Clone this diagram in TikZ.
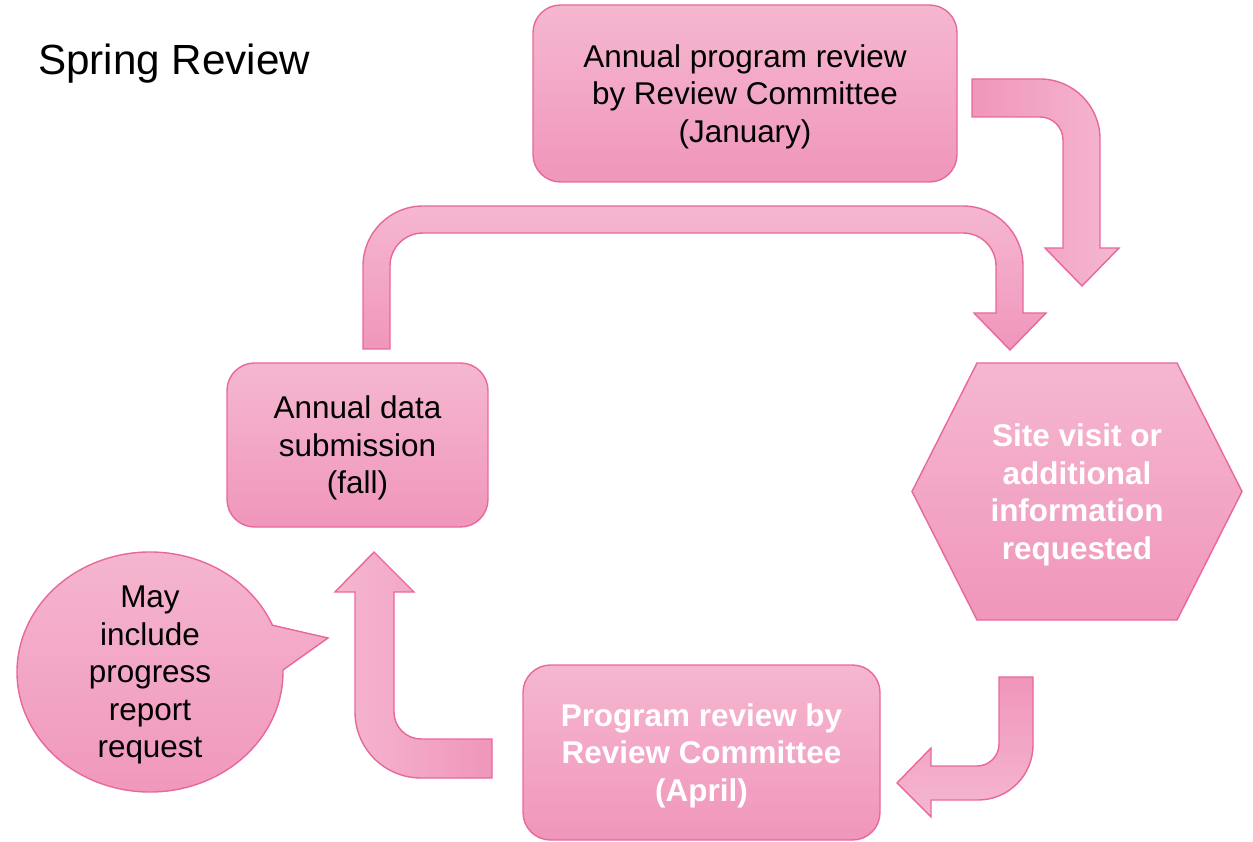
\documentclass[tikz,border=0pt]{standalone}
\usepackage{fontspec}
\setmainfont{Liberation Sans}
\usetikzlibrary{positioning, shapes.geometric, shapes.callouts}
\definecolor{pinkL}{RGB}{245,183,208}
\definecolor{pinkD}{RGB}{240,150,187}
\definecolor{pinkE}{RGB}{232,104,156}

\begin{document}
\begin{tikzpicture}[
	stepbox/.style={draw=pinkE, line width=0.8pt, rounded corners=0.55cm, top color=pinkL, bottom color=pinkD, align=center, inner sep=0pt},
	blacktext/.style={align=center, text depth=0pt, font=\fontsize{17.9}{21.3}\selectfont},
	whitetext/.style={align=center, text depth=0pt, text=white, font=\fontsize{17.9}{21.3}\selectfont\bfseries},
	bentarrow/.style={draw=pinkE, line width=0.8pt, line join=miter}
]
					\useasboundingbox (0,0) rectangle (25.06,16.82);
					\node[anchor=base west, font=\fontsize{24}{28}\selectfont] (title) at (0.64,15.32) {Spring Review};
					\node[stepbox, blacktext, minimum width=8.48cm, minimum height=3.54cm] (jan) at (14.9,14.95) {Annual program review\\by Review Committee\\(January)};
					\node[stepbox, blacktext, minimum width=5.22cm, minimum height=3.28cm] (fall) at (7.15,7.92) {Annual data\\submission\\(fall)};
					\node[stepbox, whitetext, minimum width=7.14cm, minimum height=3.5cm] (april) at (14.03,1.77) {Program review by\\Review Committee\\(April)};
					\draw[bentarrow, top color=pinkL, bottom color=pinkD] (18.24,6.99) -- (19.54,9.56) -- (23.54,9.56) -- (24.84,6.99) -- (23.54,4.42) -- (19.54,4.42) -- cycle;
					\node[whitetext] (site) at (21.54,6.99) {Site visit or\\additional\\information\\requested};
					\node[ellipse callout, draw=pinkE, line width=0.8pt, top color=pinkL, bottom color=pinkD, minimum width=5.32cm, minimum height=4.8cm, callout absolute pointer={(6.56,4.06)}, callout pointer arc=22] (bubble) at (3.0,3.38) {};
					\node[blacktext] (note) at (bubble.center) {May\\include\\progress\\report\\request};
					\draw[bentarrow, left color=pinkD, right color=pinkL] (19.44,15.24) -- (20.8,15.24) arc[start angle=90, end angle=0, radius=1.2] -- (22,11.86) -- (22.38,11.86) -- (21.64,11.1) -- (20.9,11.86) -- (21.26,11.86) -- (21.26,14.02) arc[start angle=0, end angle=90, radius=0.46] -- (19.44,14.48) -- cycle;
					\draw[bentarrow, top color=pinkL, bottom color=pinkD] (7.26,9.84) -- (7.26,11.5) arc[start angle=180, end angle=90, radius=1.2] -- (19.26,12.7) arc[start angle=90, end angle=0, radius=1.2] -- (20.46,10.56) -- (20.92,10.56) -- (20.2,9.82) -- (19.48,10.56) -- (19.92,10.56) -- (19.92,11.5) arc[start angle=0, end angle=90, radius=0.66] -- (8.46,12.16) arc[start angle=90, end angle=180, radius=0.66] -- (7.8,9.84) -- cycle;
					\draw[bentarrow, top color=pinkD, bottom color=pinkL] (19.98,3.28) -- (20.66,3.28) -- (20.66,1.92) arc[start angle=0, end angle=-90, radius=1.1] -- (18.62,0.82) -- (18.62,0.48) -- (17.94,1.16) -- (18.62,1.86) -- (18.62,1.5) -- (19.54,1.5) arc[start angle=-90, end angle=0, radius=0.44] -- cycle;
					\draw[bentarrow, left color=pinkL, right color=pinkD] (9.84,2.04) -- (8.42,2.04) arc[start angle=-90, end angle=-180, radius=0.54] -- (7.88,4.98) -- (8.28,4.98) -- (7.48,5.78) -- (6.7,4.98) -- (7.1,4.98) -- (7.1,2.58) arc[start angle=180, end angle=270, radius=1.32] -- (9.84,1.26) -- cycle;
				\end{tikzpicture}
\end{document}
